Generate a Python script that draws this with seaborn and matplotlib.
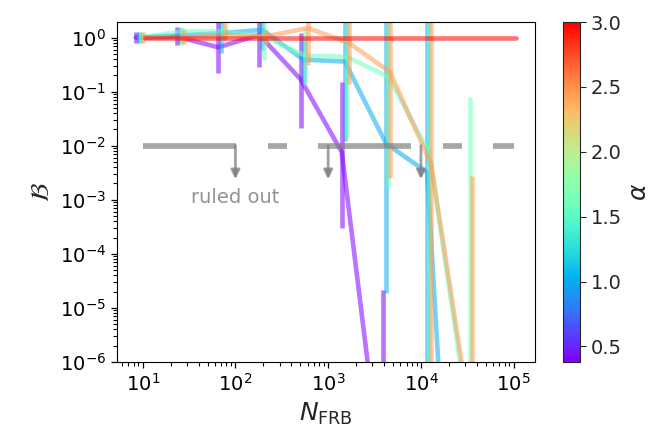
import numpy as np
import pandas as pd
import matplotlib
matplotlib.use("Agg")
import matplotlib.pyplot as plt
import seaborn as sns
from matplotlib.colors import Normalize
from matplotlib.cm import ScalarMappable
from matplotlib.ticker import FixedLocator, NullFormatter

# ---- data ----
N_grid = [10, 27.8, 77.4, 215, 599, 1668, 4642, 12915, 35938, 100000]
alpha_values = [0.38, 1.0, 1.6, 2.45, 3.0]

purple_B = [1.0, 1.04, 0.66, 1.12, 0.17, 7.6e-3, 5e-9]
purple_lo = [0.78, 0.72, 0.22, 0.29, 0.021, 3e-4, 1e-12]
purple_hi = [1.27, 1.57, 10, 10, 1.2, 0.15, 2.1e-5]

cyan_B = [1.0, 1.1, 1.2, 1.39, 0.39, 0.36, 0.011, 3.2e-3, 2.5e-16]
cyan_lo = [0.8, 0.8, 0.52, 0.6, 0.15, 0.012, 1.9e-5, 1e-20, 2.5e-16]
cyan_hi = [1.25, 1.5, 10, 10, 1.0, 10, 10, 10, 2.5e-16]

mint_B = [1.0, 1.3, 1.3, 1.04, 0.46, 0.44, 0.19, 7.5e-3, 5e-8]
mint_lo = [0.8, 0.73, 0.8, 0.38, 0.13, 0.014, 1.7e-3, 1e-20, 1e-20]
mint_hi = [1.25, 1.57, 1.8, 10, 1.5, 10, 10, 10, 0.08]

orange_B = [1.0, 1.0, 1.1, 1.05, 1.5, 0.8, 0.23, 4.5e-3, 5e-8]
orange_lo = [0.8, 0.75, 0.9, 0.75, 0.31, 0.14, 2.5e-3, 1e-20, 1e-20]
orange_hi = [1.25, 1.35, 10, 1.4, 10, 10, 10, 10, 2.8e-3]

red_B = [1.0, 1.0, 1.0, 1.0, 1.0, 1.0, 1.0, 1.0, 1.0, 1.0]
red_lo = [1.0, 1.0, 1.0, 1.0, 1.0, 1.0, 1.0, 1.0, 1.0, 1.0]
red_hi = [1.0, 1.0, 1.0, 1.0, 1.0, 1.0, 1.0, 1.0, 1.0, 1.0]

series = [
    (purple_B, purple_lo, purple_hi),
    (cyan_B, cyan_lo, cyan_hi),
    (mint_B, mint_lo, mint_hi),
    (orange_B, orange_lo, orange_hi),
    (red_B, red_lo, red_hi),
]
x_dodge = [0.84, 0.905, 0.95, 1.0, 1.05]  # horizontal offsets for readability

threshold = 1e-2
arrow_N = [100, 1000, 10000]
arrow_tip = 10 ** -2.62

x_major = [1e1, 1e2, 1e3, 1e4, 1e5]
y_major = [1e0, 1e-1, 1e-2, 1e-3, 1e-4, 1e-5, 1e-6]

# ---- figure ----
sns.set_style("ticks")

fig = plt.figure(figsize=(6.56, 4.37), dpi=100)
ax = fig.add_axes([117 / 656, 75 / 437, 418 / 656, 340 / 437])
cax = fig.add_axes([563 / 656, 75 / 437, 17 / 656, 340 / 437])

ax.set_xscale("log")
ax.set_yscale("log")

cmap = plt.get_cmap("rainbow")
norm = Normalize(vmin=min(alpha_values), vmax=max(alpha_values))
lw = 3.3
alp = 0.55

for a, (B, lo, hi), dx in zip(alpha_values, series, x_dodge):
    n = len(B)
    xs = np.array(N_grid[:n]) * dx
    col = cmap(norm(a))
    df = pd.DataFrame({"N": xs, "B": B})
    sns.lineplot(data=df, x="N", y="B", color=col, lw=lw, alpha=alp,
                 estimator=None, sort=False, ax=ax, legend=False)
    ax.vlines(xs, lo, hi, colors=[col], lw=lw, alpha=alp)

# ruled-out threshold line
dash_px = [93, 32, 19, 31]
lw_thr = 4.1
dash = tuple(d / 1.389 / lw_thr for d in dash_px)
ax.plot([10, 1e5], [threshold, threshold], color="gray", alpha=0.7,
        lw=lw_thr, linestyle=(0, dash), solid_capstyle="butt")
for xa in arrow_N:
    ax.annotate("", xy=(xa, arrow_tip), xytext=(xa, threshold),
                arrowprops=dict(arrowstyle="-|>", color="gray", alpha=0.75,
                                lw=2, mutation_scale=13, shrinkA=0, shrinkB=0))
ax.text(100, 1.1e-3, "ruled out", color="gray", alpha=0.85, fontsize=14,
        ha="center", va="center")

ax.set_xlabel(r"$N_{\rm FRB}$", fontsize=18)
ax.set_ylabel(r"$\mathcal{B}$", fontsize=18)
for s in ax.spines.values():
    s.set_edgecolor("black")

sm = ScalarMappable(norm=norm, cmap=cmap)
cb = fig.colorbar(sm, cax=cax)
cb.set_ticks([0.5, 1.0, 1.5, 2.0, 2.5, 3.0])
cb.ax.minorticks_off()
cb.ax.tick_params(labelsize=14, length=4)
cb.set_label(r"$\alpha$", fontsize=18)

# axis limits and ticks (set last so nothing overrides them)
xlim = (10 ** 0.723, 10 ** 5.23)
ylim = (1e-6, 10 ** 0.287)
ax.set_xlim(*xlim)
ax.set_ylim(*ylim)
ax.set_xticks(x_major)
ax.set_yticks(y_major)
x_minor = [m * 10.0 ** e for e in range(0, 6) for m in range(2, 10)
           if xlim[0] <= m * 10.0 ** e <= xlim[1]]
y_minor = [m * 10.0 ** e for e in range(-6, 1) for m in range(2, 10)
           if ylim[0] <= m * 10.0 ** e <= ylim[1]]
ax.xaxis.set_minor_locator(FixedLocator(x_minor))
ax.yaxis.set_minor_locator(FixedLocator(y_minor))
ax.xaxis.set_minor_formatter(NullFormatter())
ax.yaxis.set_minor_formatter(NullFormatter())
ax.tick_params(axis="both", which="major", labelsize=14, length=4.5, width=0.9,
               color="black", labelcolor="black")
ax.tick_params(axis="both", which="minor", length=3, width=0.8, color="black",
               bottom=True, left=True, top=False, right=False)
ax.set_xlim(*xlim)
ax.set_ylim(*ylim)

fig.savefig("out.png", dpi=100)
